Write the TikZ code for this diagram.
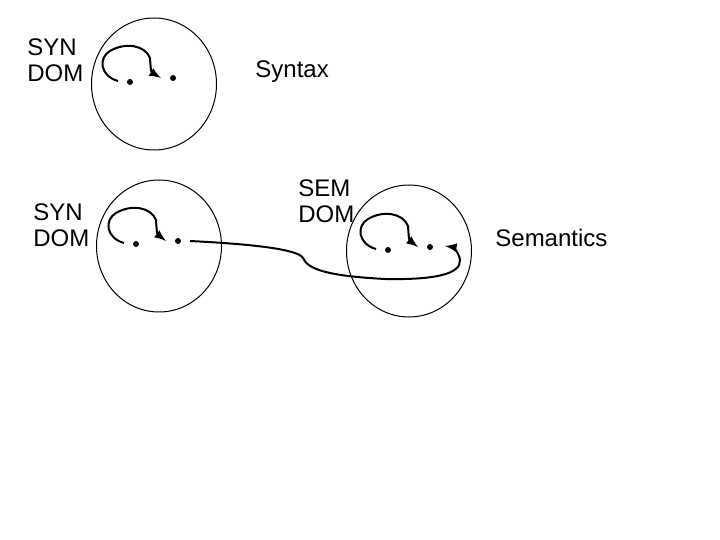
\documentclass[tikz,border=0pt]{standalone}
\usepackage{fontspec}
\setmainfont{Liberation Sans}
\usepackage{tikz}
\usetikzlibrary{shapes,arrows,calc}

\begin{document}
\begin{tikzpicture}[
    x=0.5pt, y=-0.5pt,
    dom/.style={ellipse, draw, line width=0.5pt, minimum width=62.5pt, minimum height=66pt},
    dot/.style={circle, fill, inner sep=0pt, minimum size=3pt},
    lbl/.style={inner sep=0pt, align=left, font=\fontsize{12}{13}\selectfont},
    link/.style={-latex, line width=1pt}
]
\useasboundingbox (0,0) rectangle (720,540);

\node[dom] (syn1) at (154,84) {};
\node[dom] (syn2) at (159,246) {};
\node[dom] (sem) at (409,251) {};

\node[dot] (a1) at (130,82) {};
\node[dot] (b1) at (173,78) {};
\node[dot] (a2) at (136,244) {};
\node[dot] (b2) at (178,241) {};
\node[dot] (a3) at (388,250) {};
\node[dot] (b3) at (430,247) {};

\draw[link] ($(a1)+(-12,-1)$) .. controls +(-18,-5) and +(-12,7) .. ++(-8,-30)
    .. controls +(15,-9) and +(-5,-13) .. ++(40,7) .. controls +(1,14) .. ($(b1)+(-12,0)$);
\draw[link] ($(a2)+(-12,-1)$) .. controls +(-18,-5) and +(-12,7) .. ++(-8,-30)
    .. controls +(15,-9) and +(-5,-13) .. ++(40,7) .. controls +(1,14) .. ($(b2)+(-12,0)$);
\draw[link] ($(a3)+(-12,-1)$) .. controls +(-18,-5) and +(-12,7) .. ++(-8,-30)
    .. controls +(15,-9) and +(-5,-13) .. ++(40,7) .. controls +(1,14) .. ($(b3)+(-12,0)$);

\draw[link] ($(b2)+(12,0)$) .. controls (250,244) and (298,249) .. (303,258)
    .. controls (308,270) and (330,276) .. (385,279)
    .. controls (435,280) and (461,274) .. (460,260)
    .. controls (459,252) and (452,247) .. ($(b3)+(15,-1)$);

\node[lbl, anchor=west] (synlbl1) at (27,60) {SYN\\DOM};
\node[lbl, anchor=west] (synlbl2) at (33,225) {SYN\\DOM};
\node[lbl, anchor=west] (semlbl) at (298,201) {SEM\\DOM};
\node[lbl, anchor=base west] (syntax) at (255,78) {Syntax};
\node[lbl, anchor=base west] (semantics) at (495,247) {Semantics};
\end{tikzpicture}
\end{document}
